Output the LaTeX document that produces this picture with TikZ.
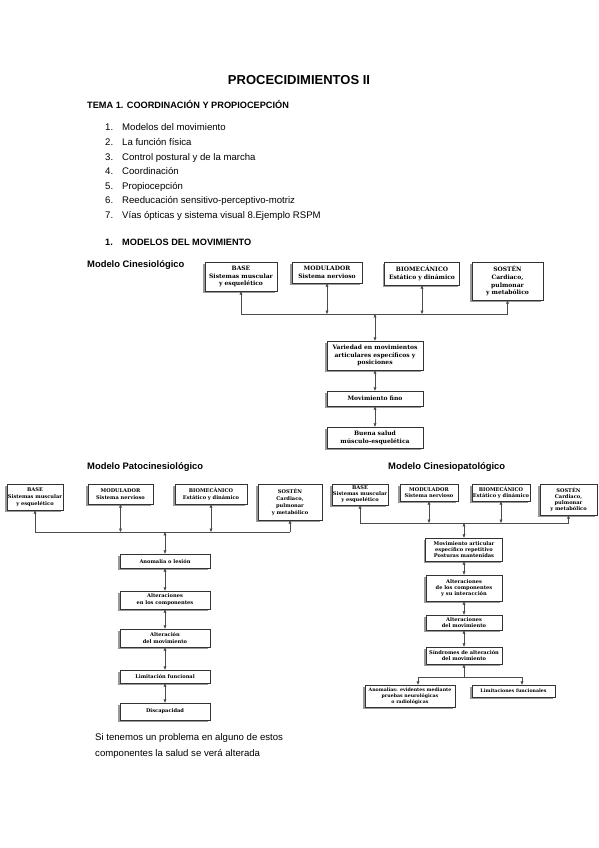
\documentclass[tikz,border=0pt]{standalone}
\usepackage{fontspec}
\setmainfont{Liberation Sans}
\newfontfamily\boxfont{DejaVu Serif}
\usetikzlibrary{arrows.meta,shadows}
\begin{document}
\begin{tikzpicture}[x=1pt,y=-1pt,
  bx/.style={draw=black!80, line width=0.5pt, fill=white, inner sep=0pt, align=center,
    general shadow={fill=black!40, shadow xshift=-1.9pt, shadow yshift=-1.9pt}},
  fa/.style={font=\boxfont\bfseries\fontsize{6pt}{7.8pt}\selectfont},
  fb/.style={font=\boxfont\bfseries\fontsize{5.1pt}{7pt}\selectfont},
  fc/.style={font=\boxfont\bfseries\fontsize{5.1pt}{6pt}\selectfont},
  fd/.style={font=\boxfont\bfseries\fontsize{4.7pt}{6pt}\selectfont},
  ln/.style={draw=black!70, line width=0.7pt},
  tip/.style={-{Triangle[length=3.4pt,width=2.8pt]}},
  both/.style={{Triangle[length=3.4pt,width=2.8pt]}-{Triangle[length=3.4pt,width=2.8pt]}},
  body/.style={font=\fontsize{9.6pt}{11pt}\selectfont, inner sep=0pt, anchor=base west},
  bodyb/.style={font=\bfseries\fontsize{9.2pt}{11pt}\selectfont, inner sep=0pt, anchor=base west},
  lab/.style={font=\bfseries\fontsize{9.4pt}{11pt}\selectfont, inner sep=0pt, anchor=base west},
]
\useasboundingbox[fill=white] (0,0) rectangle (599,848);

% ---------- header ----------
\node[font=\bfseries\fontsize{13pt}{15pt}\selectfont, inner sep=0pt, anchor=base] (title) at (299,84.5) {PROCECIDIMIENTOS II};
\node[bodyb] (tema) at (87,109) {TEMA 1. COORDINACIÓN Y PROPIOCEPCIÓN};

\foreach \i/\t/\y in {1/Modelos del movimiento/131,
                      2/La función física/145.5,
                      3/Control postural y de la marcha/160,
                      4/Coordinación/174.5,
                      5/Propiocepción/189,
                      6/Reeducación sensitivo-perceptivo-motriz/203.5,
                      7/Vías ópticas y sistema visual 8.Ejemplo RSPM/218}{
  \node[body] (num\i) at (105,\y) {\i.};
  \node[body] (item\i) at (122,\y) {\t};
}

\node[bodyb] (secn) at (105,245.5) {1.};
\node[bodyb] (sec) at (122,245.5) {MODELOS DEL MOVIMIENTO};

% ---------- Modelo Cinesiologico ----------
\node[lab] (lab1) at (87,267.5) {Modelo Cinesiológico};

\node[bx,fa,minimum width=72pt,minimum height=29pt] (c1) at (241,276.5) {BASE\\Sistemas muscular\\y esquelético};
\node[bx,fa,minimum width=70pt,minimum height=21pt] (c2) at (327,272.5) {MODULADOR\\Sistema nervioso};
\node[bx,fa,minimum width=75pt,minimum height=23pt] (c3) at (422,273.5) {BIOMECÁNICO\\Estático y dinámico};
\node[bx,fa,minimum width=71pt,minimum height=38pt] (c4) at (507.5,281) {SOSTÉN\\Cardiaco,\\pulmonar\\y metabólico};

\coordinate (cy) at (0,314);
\draw[ln] (c1.south |- cy) -- (c4.south |- cy);
\draw[ln,tip] (c1.south |- cy) -- (c1.south);
\draw[ln,both] (c2.south |- cy) -- (c2.south);
\draw[ln,both] (c3.south |- cy) -- (c3.south);
\draw[ln,tip] (c4.south |- cy) -- (c4.south);

\node[bx,fa,minimum width=96pt,minimum height=29pt] (c5) at (375,355.5) {Variedad en movimientos\\articulares específicos y\\posiciones};
\node[bx,fa,minimum width=96pt,minimum height=15pt] (c6) at (375,398.5) {Movimiento fino};
\node[bx,fa,minimum width=96pt,minimum height=21pt] (c7) at (375,437.5) {Buena salud\\músculo-esquelética};

\draw[ln,both] (c5.north |- cy) -- (c5.north);
\draw[ln,both] (c5) -- (c6);
\draw[ln,both] (c6) -- (c7);

% ---------- Modelo Patocinesiologico ----------
\node[lab] (lab2) at (87,469.5) {Modelo Patocinesiológico};

\node[bx,fb,minimum width=56pt,minimum height=26pt] (p1) at (35,497) {BASE\\Sistemas muscular\\y esquelético};
\node[bx,fb,minimum width=65pt,minimum height=20pt] (p2) at (120.5,494) {MODULADOR\\Sistema nervioso};
\node[bx,fb,minimum width=72pt,minimum height=20pt] (p3) at (211,494) {BIOMECÁNICO\\Estático y dinámico};
\node[bx,fb,minimum width=64pt,minimum height=36pt] (p4) at (290,502) {SOSTÉN\\Cardiaco,\\pulmonar\\y metabólico};

\coordinate (py) at (0,532);
\draw[ln] (p1.south |- py) -- (p4.south |- py);
\draw[ln,tip] (p1.south |- py) -- (p1.south);
\draw[ln,both] (p2.south |- py) -- (p2.south);
\draw[ln,both] (p3.south |- py) -- (p3.south);
\draw[ln,tip] (p4.south |- py) -- (p4.south);

\node[bx,fb,minimum width=90pt,minimum height=14pt] (pA) at (165,561) {Anomalía o lesión};
\node[bx,fb,minimum width=90pt,minimum height=18pt] (pB) at (165,600) {Alteraciones\\en los componentes};
\node[bx,fb,minimum width=90pt,minimum height=18pt] (pC) at (165,638) {Alteración\\del movimiento};
\node[bx,fb,minimum width=90pt,minimum height=13pt] (pD) at (165,676.5) {Limitación funcional};
\node[bx,fb,minimum width=90pt,minimum height=17pt] (pE) at (165,711.5) {Discapacidad};

\draw[ln,both] (pA.north |- py) -- (pA.north);
\draw[ln,both] (pA) -- (pB);
\draw[ln,both] (pB) -- (pC);
\draw[ln,both] (pC) -- (pD);
\draw[ln,both] (pD) -- (pE);

\node[body] (note1) at (95,740.5) {Si tenemos un problema en alguno de estos};
\node[body] (note2) at (95,756.5) {componentes la salud se verá alterada};

% ---------- Modelo Cinesiopatologico ----------
\node[lab] (lab3) at (388,469.5) {Modelo Cinesiopatológico};

\node[bx,fc,minimum width=56pt,minimum height=21pt] (q1) at (360,494.5) {BASE\\Sistemas muscular\\y esquelético};
\node[bx,fc,minimum width=58pt,minimum height=17pt] (q2) at (429,492.5) {MODULADOR\\Sistema nervioso};
\node[bx,fc,minimum width=58pt,minimum height=17pt] (q3) at (501,492.5) {BIOMECÁNICO\\Estático y dinámico};
\node[bx,fc,minimum width=57pt,minimum height=31pt] (q4) at (568.5,499.5) {SOSTÉN\\Cardiaco,\\pulmonar\\y metabólico};

\coordinate (qy) at (0,523);
\draw[ln] (q1.south |- qy) -- (q4.south |- qy);
\draw[ln,tip] (q1.south |- qy) -- (q1.south);
\draw[ln,both] (q2.south |- qy) -- (q2.south);
\draw[ln,both] (q3.south |- qy) -- (q3.south);
\draw[ln,tip] (q4.south |- qy) -- (q4.south);

\node[bx,fc,minimum width=77pt,minimum height=23pt] (qA) at (464,549.5) {Movimiento articular\\específico repetitivo\\Posturas mantenidas};
\node[bx,fc,minimum width=76pt,minimum height=26pt] (qB) at (464,588) {Alteraciones\\de los componentes\\y su interacción};
\node[bx,fc,minimum width=76pt,minimum height=15pt] (qC) at (464,622.5) {Alteraciones\\del movimiento};
\node[bx,fc,minimum width=76pt,minimum height=17pt] (qD) at (464,655.5) {Síndromes de alteración\\del movimiento};
\node[bx,fd,minimum width=90pt,minimum height=22pt] (qE) at (410,696) {Anomalías: evidentes mediante\\pruebas neurológicas\\o radiológicas};
\node[bx,fd,minimum width=83pt,minimum height=12pt] (qF) at (513.5,691) {Limitaciones funcionales};

\draw[ln,both] (qA.north |- qy) -- (qA.north);
\draw[ln,both] (qA) -- (qB);
\draw[ln,both] (qB) -- (qC);
\draw[ln,both] (qC) -- (qD);

\coordinate (qb) at (0,677);
\draw[ln,tip] (qD.south |- qb) -- (qD.south);
\draw[ln] ([xshift=8pt]qE.north |- qb) -- ([xshift=8.5pt]qF.north |- qb);
\draw[ln,tip] ([xshift=8pt]qE.north |- qb) -- ([xshift=8pt]qE.north);
\draw[ln,tip] ([xshift=8.5pt]qF.north |- qb) -- ([xshift=8.5pt]qF.north);
\end{tikzpicture}
\end{document}
